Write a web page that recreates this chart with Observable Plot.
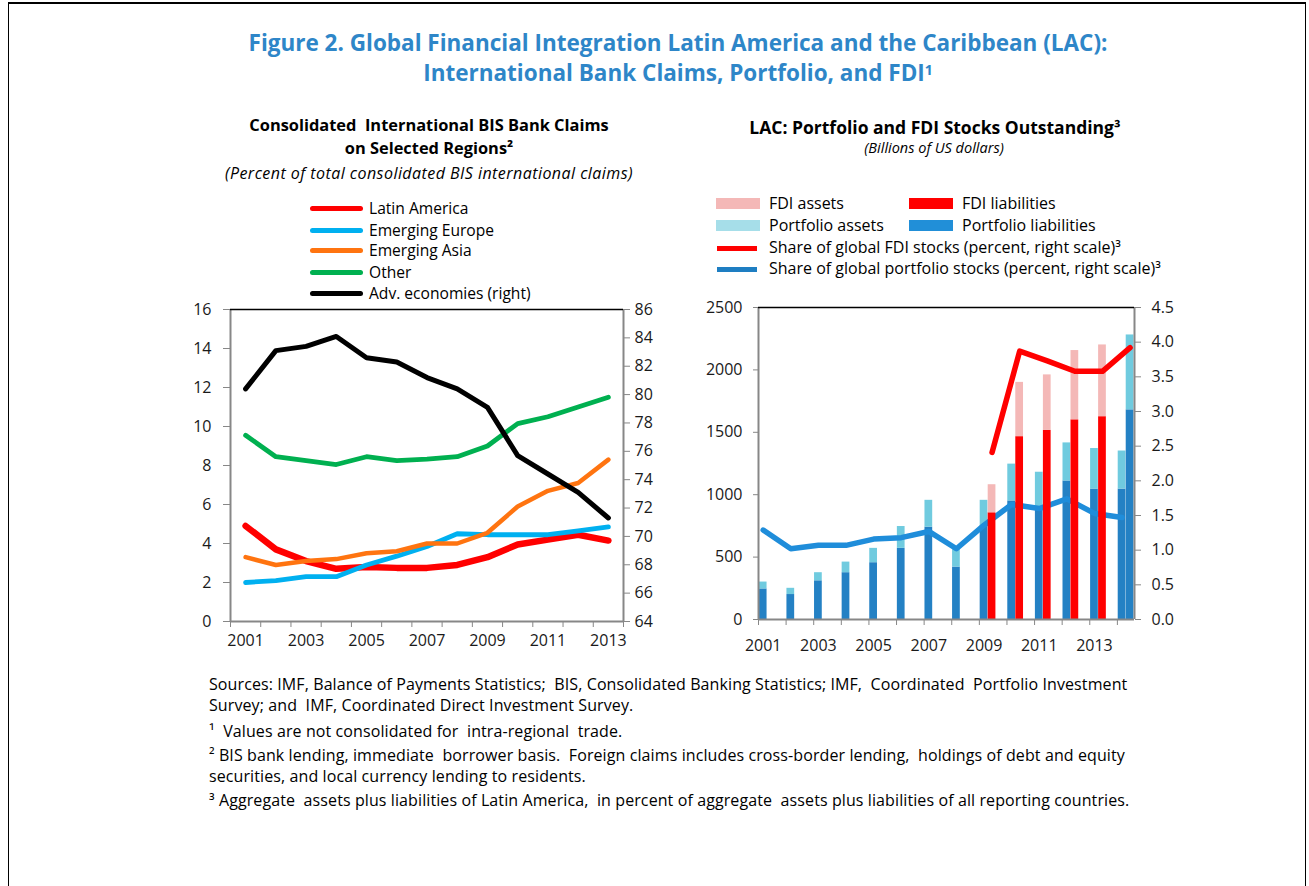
<!DOCTYPE html>
<html><head><meta charset="utf-8">
<script src="https://cdn.jsdelivr.net/npm/d3@7"></script>
<script src="https://cdn.jsdelivr.net/npm/@observablehq/plot@0.6"></script>
<style>
body{margin:0;background:#fff;}
#page{position:relative;width:1309px;height:886px;overflow:hidden;font-family:"Open Sans",sans-serif;color:#000;background:#fff;}
.abs{position:absolute;white-space:nowrap;}
.ctr{transform:translateX(-50%);text-align:center;}
#border{position:absolute;left:8px;top:2px;width:1296px;height:950px;border-top:2px solid #000;border-left:1px solid #000;border-right:1px solid #000;}
#title{left:678px;top:28px;font-size:22.5px;font-weight:700;color:#2E86C8;line-height:30px;}
#title sup{font-size:14px;vertical-align:top;position:relative;top:-3px;}
.ptitle{font-weight:700;line-height:23px;}
.psub{font-style:italic;line-height:20px;}
.leg{font-size:15.6px;line-height:20px;}
.legR{font-size:16px;line-height:20px;}
.legline{position:absolute;height:5px;border-radius:3px;}
.sw{position:absolute;height:11px;}
.foot{left:209px;font-size:16px;letter-spacing:0.1px;line-height:20px;}
.plot{position:absolute;}
</style></head>
<body><div id="page">
<div id="border"></div>
<div id="title" class="abs ctr">Figure 2. Global Financial Integration Latin America and the Caribbean (LAC):<br>International Bank Claims, Portfolio, and FDI<sup>1</sup></div>

<div class="abs ctr ptitle" style="left:429px;top:113px;font-size:16.4px;">Consolidated&nbsp; International BIS Bank Claims<br>on Selected Regions²</div>
<div class="abs ctr psub" style="left:429px;top:163px;font-size:16px;letter-spacing:0.45px;">(Percent of total consolidated BIS international claims)</div>
<div id="legL"></div>

<div class="abs ctr ptitle" style="left:935px;top:116px;font-size:17.5px;">LAC: Portfolio and FDI Stocks Outstanding³</div>
<div class="abs ctr psub" style="left:934px;top:138px;font-size:14.5px;">(Billions of US dollars)</div>
<div id="legR"></div>

<div id="plotL" class="plot" style="left:180px;top:290px;"></div>
<div id="plotR" class="plot" style="left:690px;top:290px;"></div>

<div class="abs foot" style="top:674px;">Sources: IMF, Balance of Payments Statistics;&nbsp; BIS, Consolidated Banking Statistics; IMF,&nbsp; Coordinated&nbsp; Portfolio Investment</div>
<div class="abs foot" style="top:695px;">Survey; and&nbsp; IMF, Coordinated Direct Investment Survey.</div>
<div class="abs foot" style="top:721px;">¹&nbsp; Values are not consolidated for&nbsp; intra-regional&nbsp; trade.</div>
<div class="abs foot" style="top:745px;">² BIS bank lending, immediate&nbsp; borrower basis.&nbsp; Foreign claims includes cross-border lending,&nbsp; holdings of debt and equity</div>
<div class="abs foot" style="top:766px;">securities, and local currency lending to residents.</div>
<div class="abs foot" style="top:790px;">³ Aggregate&nbsp; assets plus liabilities of Latin America,&nbsp; in percent of aggregate&nbsp; assets plus liabilities of all reporting countries.</div>
</div>
<script>
// ---------- Left chart data ----------
const yearsL = [2001,2002,2003,2004,2005,2006,2007,2008,2009,2010,2011,2012,2013];
const latinAmerica   = [4.9,3.7,3.1,2.7,2.8,2.75,2.75,2.9,3.3,3.95,4.2,4.45,4.15];
const emergingEurope = [2.0,2.1,2.3,2.3,2.9,3.35,3.85,4.5,4.45,4.45,4.45,4.65,4.85];
const emergingAsia   = [3.3,2.9,3.1,3.2,3.5,3.6,4.0,4.0,4.55,5.9,6.7,7.1,8.3];
const otherRegions   = [9.55,8.45,8.25,8.05,8.45,8.25,8.33,8.45,9.0,10.15,10.5,11.0,11.5];
const advEconomies   = [80.4,83.1,83.4,84.1,82.6,82.3,81.2,80.4,79.1,75.7,74.4,73.1,71.3];
const seriesL = ["Latin America","Emerging Europe","Emerging Asia","Other","Adv. economies (right)"];
const colorsL = ["#FF0000","#00B0F0","#FF7410","#00B050","#000000"];
const leftTicksL = [0,2,4,6,8,10,12,14,16];
const rightTicksL = [64,66,68,70,72,74,76,78,80,82,84,86];
const xLabelsL = [2001,2003,2005,2007,2009,2011,2013];

// ---------- Right chart data ----------
const yearsR = [2001,2002,2003,2004,2005,2006,2007,2008,2009,2010,2011,2012,2013,2014];
const portfolioLiabilities = [245,200,310,375,455,570,740,420,750,950,890,1110,1045,1045];
const portfolioAssets      = [55,50,65,85,115,175,215,140,205,295,290,305,325,305];
const yearsFDI = [2009,2010,2011,2012,2013,2014];
const fdiLiabilities = [855,1465,1515,1600,1625,1680];
const fdiAssets      = [225,435,445,555,575,600];
const fdiShare       = [2.41,3.87,3.73,3.58,3.58,3.92];
const portfolioShare = [1.29,1.02,1.07,1.07,1.16,1.18,1.27,1.02,1.36,1.66,1.60,1.74,1.53,1.47];
const seriesR = ["FDI assets","FDI liabilities","Portfolio assets","Portfolio liabilities",
  "Share of global FDI stocks (percent, right scale)³","Share of global portfolio stocks (percent, right scale)³"];
const leftTicksR = [0,500,1000,1500,2000,2500];
const rightTicksR = [0,0.5,1,1.5,2,2.5,3,3.5,4,4.5];
const xLabelsR = [2001,2003,2005,2007,2009,2011,2013];

const AX = "#878787", TXT = "#1a1a1a";

// ---------- Left legend ----------
{
  const el = document.getElementById("legL");
  const rows = [208,230,250,272,293];
  seriesL.forEach((s,i)=>{
    el.insertAdjacentHTML("beforeend",
      `<div class="legline" style="left:310px;width:53px;top:${rows[i]-2.5}px;background:${colorsL[i]}"></div>
       <div class="abs leg" style="left:369px;top:${rows[i]-10}px;">${s}</div>`);
  });
}
// ---------- Right legend ----------
{
  const el = document.getElementById("legR");
  const sw = [["#F4B8B7",716,204],["#FF0000",909,204],["#A6DEE9",716,226],["#218FD8",909,226]];
  sw.forEach(([c,x,y],i)=>{
    el.insertAdjacentHTML("beforeend",
      `<div class="sw" style="left:${x}px;width:44px;top:${y-6}px;background:${c}"></div>
       <div class="abs legR" style="left:${x+53}px;top:${y-11}px;">${seriesR[i]}</div>`);
  });
  [["#FF0000",248,4],["#1E7EC2",269,5]].forEach(([c,y,k])=>{
    el.insertAdjacentHTML("beforeend",
      `<div class="legline" style="left:717px;width:40px;border-radius:0;top:${y-2.5}px;background:${c}"></div>
       <div class="abs legR" style="left:769px;top:${y-11}px;">${seriesR[k]}</div>`);
  });
}

// ---------- Left plot ----------
const toLeft = v => (v - 64) * 16 / 22;
const fromLeft = t => t * 22 / 16 + 64;
const rowsL = [];
[latinAmerica, emergingEurope, emergingAsia, otherRegions].forEach((arr,i)=>
  arr.forEach((v,j)=>rowsL.push({series: seriesL[i], year: yearsL[j], y: v})));
advEconomies.forEach((v,j)=>rowsL.push({series: seriesL[4], year: yearsL[j], y: toLeft(v)}));
const widthsL = [6.5,4.8,4.5,4.8,5];

const plotL = Plot.plot({
  width: 490, height: 370,
  marginLeft: 50, marginRight: 47, marginTop: 19, marginBottom: 39,
  style: {fontFamily: "Open Sans", fontSize: "16px", color: TXT, background: "transparent", overflow: "visible"},
  x: {domain: [2000.5, 2013.5]},
  y: {domain: [0, 16]},
  marks: [
    Plot.axisY({ticks: leftTicksL, tickSize: 7, tickPadding: 12, stroke: AX, fill: TXT, label: null, tickFormat: d => String(d)}),
    Plot.axisY({anchor: "right", ticks: rightTicksL.map(toLeft), tickSize: 6, tickPadding: 5, stroke: AX, fill: TXT, label: null,
      tickFormat: t => String(Math.round(fromLeft(t)))}),
    Plot.axisX({ticks: d3.range(2000.5, 2014, 1), tickSize: 6, stroke: AX, label: null, tickFormat: () => ""}),
    Plot.axisX({ticks: xLabelsL, tickSize: 0, tickPadding: 13, fill: TXT, label: null, tickFormat: d => String(d)}),
    Plot.ruleY([0], {stroke: AX, strokeWidth: 2}),
    Plot.ruleX([2000.5, 2013.5], {stroke: AX, strokeWidth: 2}),
    Plot.ruleY([16], {stroke: "#000", strokeWidth: 1.5}),
    ...seriesL.map((s,i)=>Plot.line(rowsL.filter(d=>d.series===s), {
      x: "year", y: "y", stroke: colorsL[i], strokeWidth: widthsL[i],
      strokeLinecap: "round", strokeLinejoin: "round"}))
  ]
});
document.getElementById("plotL").append(plotL);

// ---------- Right plot ----------
const rs = 2500 / 4.5;
const PORT_DARK = "#2481C4", PORT_LIGHT = "#70CBDF", FDI_DARK = "#FF0000", FDI_LIGHT = "#F4B8B7";
const portRows = yearsR.map((y,j)=>({year: y, liab: portfolioLiabilities[j], assets: portfolioAssets[j], share: portfolioShare[j]}));
const fdiRows = yearsFDI.map((y,j)=>({year: y, liab: fdiLiabilities[j], assets: fdiAssets[j], share: fdiShare[j]}));
const P0 = 0.03, P1 = 0.31, F0 = 0.32, F1 = 0.60;

const plotR = Plot.plot({
  width: 500, height: 370,
  marginLeft: 68, marginRight: 56, marginTop: 17, marginBottom: 41,
  style: {fontFamily: "Open Sans", fontSize: "16px", color: TXT, background: "transparent", overflow: "visible"},
  x: {domain: [2001, 2014.62]},
  y: {domain: [0, 2500]},
  marks: [
    Plot.axisY({ticks: leftTicksR, tickSize: 5, tickPadding: 11, stroke: AX, fill: TXT, label: null, tickFormat: d => String(d)}),
    Plot.axisY({anchor: "right", ticks: rightTicksR.map(v => v * rs), tickSize: 6, tickPadding: 11, stroke: AX, fill: TXT, label: null,
      tickFormat: t => (t / rs).toFixed(1)}),
    Plot.axisX({ticks: yearsR, tickSize: 6, stroke: AX, label: null, tickFormat: () => ""}),
    Plot.axisX({ticks: xLabelsR.map(y => y + (P0+P1)/2), tickSize: 0, tickPadding: 20, fill: TXT, label: null,
      tickFormat: d => String(Math.round(d - (P0+P1)/2))}),
    Plot.rect(portRows, {x1: d => d.year + P0, x2: d => d.year + P1, y1: 0, y2: "liab", fill: PORT_DARK}),
    Plot.rect(portRows, {x1: d => d.year + P0, x2: d => d.year + P1, y1: "liab", y2: d => d.liab + d.assets, fill: PORT_LIGHT}),
    Plot.line(portRows, {x: d => d.year + (P0+P1)/2, y: d => d.share * rs, stroke: "#1F8DDA", strokeWidth: 5.5, strokeLinejoin: "round", strokeLinecap: "round"}),
    Plot.rect(fdiRows, {x1: d => d.year + F0, x2: d => d.year + F1, y1: 0, y2: "liab", fill: d => d.year === 2014 ? PORT_DARK : FDI_DARK}),
    Plot.rect(fdiRows, {x1: d => d.year + F0, x2: d => d.year + F1, y1: "liab", y2: d => d.liab + d.assets, fill: d => d.year === 2014 ? PORT_LIGHT : FDI_LIGHT}),
    Plot.line(fdiRows, {x: d => d.year + (F0+F1)/2, y: d => d.share * rs, stroke: "#FF0000", strokeWidth: 5.5, strokeLinejoin: "round", strokeLinecap: "round"}),
    Plot.ruleY([0], {stroke: AX, strokeWidth: 2}),
    Plot.ruleX([2001, 2014.62], {stroke: AX, strokeWidth: 2}),
    Plot.ruleY([2500], {stroke: "#000", strokeWidth: 1.5})
  ]
});
document.getElementById("plotR").append(plotR);
</script>
</body></html>
